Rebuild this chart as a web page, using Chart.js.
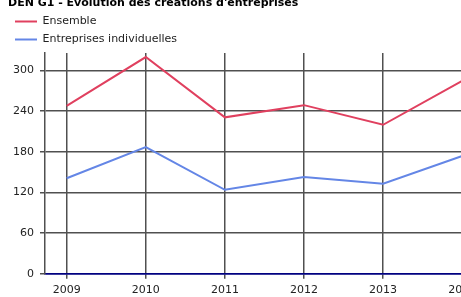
<!DOCTYPE html>
<html>
<head>
<meta charset="utf-8">
<script src="https://cdn.jsdelivr.net/npm/chart.js@4/dist/chart.umd.min.js"></script>
<style>
  html, body { margin: 0; padding: 0; background: #fff; overflow: hidden; width: 461px; height: 297px; }
  #wrap { position: absolute; left: 0; top: 0; width: 500px; height: 302px; }
</style>
</head>
<body>
<div id="wrap"><canvas id="c" width="500" height="302"></canvas></div>
<script>
const titleText = "DEN G1 - Évolution des créations d'entreprises";
const years = [2009, 2010, 2011, 2012, 2013, 2014];
const ensemble = [248, 320, 231, 249, 220, 285];
const individuelles = [141, 187, 124, 143, 133, 174];
const yTicks = [0, 60, 120, 180, 240, 300];
const seriesNames = ["Ensemble", "Entreprises individuelles"];

const toPoints = arr => years.map((y, i) => ({ x: y, y: arr[i] }));

// Let the legend stack its items one per row (narrow row width).
const LP = Chart.Legend._element.prototype;
const ROW_MAX = 200;
const origFitRows = LP._fitRows;
LP._fitRows = function (...a) {
  const m = this.maxWidth; this.maxWidth = Math.min(m, ROW_MAX);
  const r = origFitRows.apply(this, a); this.maxWidth = m; return r;
};
const origDraw = LP._draw;
LP._draw = function () {
  const r = this.right, t = this.top;
  this.right = this.left + Math.min(this.width, ROW_MAX);
  this.top = t + 2;
  origDraw.call(this);
  this.right = r; this.top = t;
};

Chart.defaults.font.family = "'DejaVu Sans', Verdana, sans-serif";
Chart.defaults.font.size = 11;
Chart.defaults.color = '#222';

const gridColor = '#505050';

new Chart(document.getElementById('c'), {
  type: 'line',
  data: {
    datasets: [
      { label: seriesNames[0], data: toPoints(ensemble), borderColor: '#e0405f', backgroundColor: '#e0405f', borderWidth: 2, pointRadius: 0, tension: 0 },
      { label: seriesNames[1], data: toPoints(individuelles), borderColor: '#6486e6', backgroundColor: '#6486e6', borderWidth: 2, pointRadius: 0, tension: 0 }
    ]
  },
  options: {
    responsive: false,
    animation: false,
    layout: { padding: { left: 8, right: 0, top: 0, bottom: 0 } },
    plugins: {
      title: {
        display: true, text: titleText, align: 'start', color: '#000',
        font: { weight: 'bold', size: 11, lineHeight: '7px' }, padding: { top: 0, bottom: 0 }
      },
      legend: {
        display: true, position: 'top', align: 'start',
        labels: {
          boxWidth: 22, boxHeight: 2, padding: 7, color: '#222', font: { size: 11 },
          generateLabels: chart => Chart.defaults.plugins.legend.labels.generateLabels(chart)
            .map(l => Object.assign(l, { lineWidth: 0 }))
        }
      },
      tooltip: { enabled: false }
    },
    scales: {
      x: {
        type: 'linear', min: 2008.726, max: 2014.478,
        afterBuildTicks: s => { s.ticks = years.map(v => ({ value: v })); },
        ticks: { callback: v => String(v), padding: 5, maxRotation: 0, color: '#222' },
        grid: { color: gridColor, lineWidth: 1.5, tickLength: 5 },
        border: { display: true, color: '#000080', width: 1.5 }
      },
      y: {
        min: 0, max: 326,
        afterBuildTicks: s => { s.ticks = yTicks.map(v => ({ value: v })); },
        afterFit: s => { s.width = 37; },
        ticks: { padding: 6, color: '#222' },
        grid: {
          color: c => (c.tick && c.tick.value === 0) ? '#000080' : gridColor,
          lineWidth: 1.5,
          tickColor: gridColor,
          tickLength: 5
        },
        border: { display: true, color: gridColor, width: 1.5 }
      }
    }
  }
});
</script>
</body>
</html>
